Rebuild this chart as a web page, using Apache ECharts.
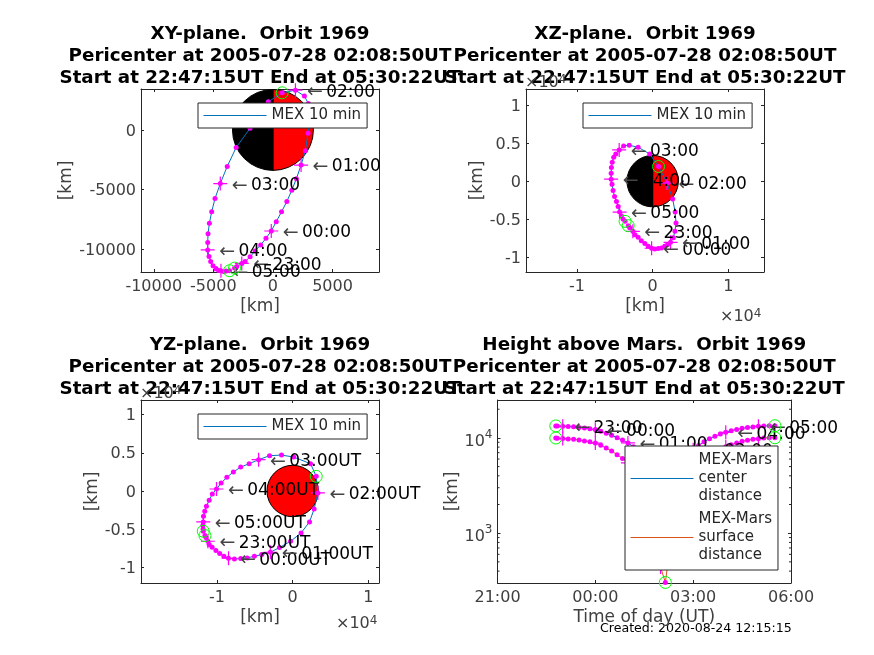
<!DOCTYPE html>
<html><head><meta charset="utf-8">
<style>html,body{margin:0;padding:0;background:#fff}#c{width:874px;height:655px}</style>
<script src="https://cdn.jsdelivr.net/npm/echarts@6/dist/echarts.min.js"></script>
</head><body><div id="c"></div>
<script>
// minutes relative to 00:00 UT on the pericenter day
const timeMin = [-72.75,-70,-60,-50,-40,-30,-20,-10,0,10,20,30,40,50,60,70,80,90,100,110,120,128.83,140,150,160,170,180,190,200,210,220,230,240,250,260,270,280,290,300,310,320,330.37];
const orbitX = [-3222,-3028,-2611,-2333,-1917,-1500,-1028,-583,-139,278,722,1167,1583,1972,2361,2722,2945,3084,2972,2639,1889,778,-389,-1917,-3084,-3834,-4417,-4861,-5139,-5334,-5445,-5473,-5473,-5361,-5223,-5028,-4778,-4556,-4361,-4139,-3917,-3639];
const orbitY = [-11584,-11445,-11195,-11028,-10640,-10140,-9640,-9084,-8473,-7695,-6862,-6000,-5056,-4084,-2945,-1750,-278,1111,2222,2833,3334,3111,2361,139,-1472,-3056,-4500,-5750,-6862,-7834,-8695,-9445,-10056,-10612,-11028,-11390,-11612,-11778,-11806,-11862,-11834,-11806];
const orbitZ = [-5842,-6104,-6584,-7020,-7368,-7804,-8197,-8546,-8807,-8894,-8851,-8764,-8546,-8328,-8022,-7412,-6584,-5494,-4055,-2354,-250,1918,3575,4447,4709,4622,4098,3575,3139,2485,1788,1046,262,-392,-1221,-2006,-2660,-3314,-4055,-4534,-4970,-5276];
const centerDist = [13368,13320,13246,13160,13083,12883,12696,12486,12222,11764,11221,10686,10055,9486,8867,8087,7216,6398,5495,4530,3838,3700,4304,4847,5820,6741,7520,8336,9130,9799,10412,10968,11453,11895,12264,12611,12834,13057,13222,13357,13417,13432];
const surfaceDist = [9972,9924,9850,9764,9687,9487,9300,9090,8826,8368,7825,7290,6659,6090,5471,4691,3820,3002,2099,1134,442,304,908,1451,2424,3345,4124,4940,5734,6403,7016,7572,8057,8499,8868,9215,9438,9661,9826,9961,10021,10036];
const hourIdx = [2,8,14,20,26,32,38];
const hourText = ['23:00','00:00','01:00','02:00','03:00','04:00','05:00'];
const ringIdx = [0,21,41];
const marsRadius = 3396;
const titleLine1 = ['XY-plane.  Orbit 1969','XZ-plane.  Orbit 1969','YZ-plane.  Orbit 1969','Height above Mars.  Orbit 1969'];
const titleLine2 = 'Pericenter at 2005-07-28 02:08:50UT';
const titleLine3 = 'Start at 22:47:15UT End at 05:30:22UT';
const xyTicksX = [-10000,-5000,0,5000];
const xyTicksY = [-10000,-5000,0];
const e4TicksX = [-10000,0,10000];
const e4TicksY = [-10000,-5000,0,5000,10000];
const timeTicks = [-180,0,180,360];
const timeTickText = ['21:00','00:00','03:00','06:00'];
const logTicks = [1000,10000];
const logMinorTicks = [400,500,600,700,800,900,2000,3000,4000,5000,6000,7000,8000,9000,20000];
const legendOrbit = 'MEX 10 min';
const legendCenter = 'MEX-Mars\ncenter\ndistance';
const legendSurface = 'MEX-Mars\nsurface\ndistance';

const FONT = '"DejaVu Sans"';
const INK = '#262626', TXT = '#404040', BLUE = '#0072BD', ORANGE = '#D95319', MAG = '#FF00FF', GREEN = '#00FF00';
const CROSS = 'path://M0 5H10M5 0V10';

const P = [
  {l:141,t:89, w:238,h:183,x:[-11070,8900],y:[-11910,3430],xt:xyTicksX,yt:xyTicksY,xf:v=>String(v),yf:v=>String(v),yGap:66},
  {l:526,t:89, w:238,h:183,x:[-16710,14690],y:[-11920,12090],xt:e4TicksX,yt:e4TicksY,xf:v=>String(v/1e4),yf:v=>String(v/1e4),yGap:40},
  {l:141,t:400,w:238,h:183,x:[-20030,11400],y:[-12050,11920],xt:e4TicksX,yt:e4TicksY,xf:v=>String(v/1e4),yf:v=>String(v/1e4),yGap:40},
  {l:497.5,t:400,w:293.5,h:183,x:[-180,360],y:[300,25000],xt:timeTicks,yt:logTicks,xf:v=>timeTickText[timeTicks.indexOf(v)],yf:v=>'{a|10}{b|'+Math.round(Math.log10(v))+'}',yGap:36.5,log:true}
];
const grid=[],xAxis=[],yAxis=[],title=[],series=[];
const axisCommon = {
  axisLine:{show:true,onZero:false,lineStyle:{color:INK,width:1}},
  splitLine:{show:false},
};
P.forEach((p,i)=>{
  grid.push({left:p.l,top:p.t,width:p.w,height:p.h,containLabel:false});
  const xb = {...axisCommon,type:'value',gridIndex:i,min:p.x[0],max:p.x[1],
    axisTick:{show:true,inside:true,length:3,customValues:p.xt,lineStyle:{color:INK}}};
  const yType = p.log?'log':'value';
  const yb = {...axisCommon,type:yType,gridIndex:i,min:p.y[0],max:p.y[1],
    axisTick:{show:true,inside:true,length:3,customValues:p.yt,lineStyle:{color:INK}}};
  if(p.log) yb.logBase=10;
  xAxis.push({...xb,position:'bottom',
    axisLabel:{show:true,customValues:p.xt,formatter:p.xf,color:TXT,fontFamily:FONT,fontSize:16,margin:7},
    name:i===3?'Time of day (UT)':'[km]',nameLocation:'middle',nameGap:26,nameMoveOverlap:false,
    nameTextStyle:{color:TXT,fontFamily:FONT,fontSize:17}});
  xAxis.push({...xb,position:'top',axisLabel:{show:false}});
  yAxis.push({...yb,position:'left',
    axisLabel:{show:true,customValues:p.yt,formatter:p.yf,color:TXT,fontFamily:FONT,fontSize:16,margin:5,padding:[3,0,0,0],
      rich:{a:{color:TXT,fontFamily:FONT,fontSize:16,padding:[5,0,0,0]},b:{color:TXT,fontFamily:FONT,fontSize:12,verticalAlign:'top',padding:[0,0,3,0]}}},
    name:'[km]',nameLocation:'middle',nameGap:p.yGap,nameRotate:90,nameMoveOverlap:false,
    nameTextStyle:{color:TXT,fontFamily:FONT,fontSize:17}});
  yAxis.push({...yb,position:'right',axisLabel:{show:false}});
  title.push({text:titleLine1[i]+'\n'+titleLine2+'\n'+titleLine3,left:p.l+p.w/2,top:p.t-66,textAlign:'center',padding:0,
    textStyle:{fontFamily:FONT,fontWeight:'bold',fontSize:18.3,lineHeight:22,color:'#000'}});
});

function marsItem(half){
  return function(params,api){
    const c = api.coord([api.value(0),api.value(1)]);
    const r = api.size([api.value(2),0])[0];
    const kids = half ? [
      {type:'sector',shape:{cx:c[0],cy:c[1],r:r,r0:0,startAngle:-Math.PI/2,endAngle:Math.PI/2},style:{fill:'#FF0000',stroke:'#000',lineWidth:1}},
      {type:'sector',shape:{cx:c[0],cy:c[1],r:r,r0:0,startAngle:Math.PI/2,endAngle:Math.PI*1.5},style:{fill:'#000',stroke:'#000',lineWidth:1}}
    ] : [
      {type:'circle',shape:{cx:c[0],cy:c[1],r:r},style:{fill:'#FF0000',stroke:'#000',lineWidth:1}}
    ];
    return {type:'group',children:kids};
  };
}
function addOrbit(gi,xs,ys,name,color,labelSuffix){
  const xi=gi*2, yi=gi*2;
  const pts = xs.map((v,k)=>[v,ys[k]]);
  series.push({type:'line',name:name,xAxisIndex:xi,yAxisIndex:yi,data:pts,symbol:'none',clip:false,z:3,silent:true,
    lineStyle:{color:color,width:1},itemStyle:{color:color}});
  series.push({type:'scatter',xAxisIndex:xi,yAxisIndex:yi,data:pts,symbol:'circle',symbolSize:5,clip:false,z:4,silent:true,
    itemStyle:{color:MAG,opacity:1}});
  series.push({type:'scatter',xAxisIndex:xi,yAxisIndex:yi,data:hourIdx.map(k=>pts[k]),symbol:CROSS,symbolSize:14,clip:false,z:5,silent:true,
    itemStyle:{color:'none',borderColor:MAG,borderWidth:1.2,opacity:1},
    label:labelSuffix===null?{show:false}:{show:true,position:'right',distance:2,offset:[0,2],
      formatter:o=>'{a|\u2190} {t|'+hourText[o.dataIndex]+labelSuffix+'}',
      rich:{a:{fontFamily:FONT,fontSize:19,color:'#444'},t:{fontFamily:FONT,fontSize:17,color:'#000'}}}});
  series.push({type:'scatter',xAxisIndex:xi,yAxisIndex:yi,data:ringIdx.map(k=>pts[k]),symbol:'circle',symbolSize:12,clip:false,z:6,silent:true,
    itemStyle:{color:'none',borderColor:GREEN,borderWidth:1,opacity:1}});
}
series.push({type:'custom',xAxisIndex:0,yAxisIndex:0,clip:true,z:2,silent:true,renderItem:marsItem(true),data:[[0,0,marsRadius]]});
series.push({type:'custom',xAxisIndex:2,yAxisIndex:2,clip:true,z:2,silent:true,renderItem:marsItem(true),data:[[0,0,marsRadius]]});
series.push({type:'custom',xAxisIndex:4,yAxisIndex:4,clip:true,z:2,silent:true,renderItem:marsItem(false),data:[[0,0,marsRadius]]});
addOrbit(0,orbitX,orbitY,legendOrbit,BLUE,'');
addOrbit(1,orbitX,orbitZ,legendOrbit,BLUE,'');
addOrbit(2,orbitY,orbitZ,legendOrbit,BLUE,'UT');
addOrbit(3,timeMin,centerDist,legendCenter,BLUE,'');
addOrbit(3,timeMin,surfaceDist,legendSurface,ORANGE,null);
// log-axis minor ticks
series.push({type:'custom',xAxisIndex:6,yAxisIndex:6,z:1,silent:true,clip:false,data:logMinorTicks.map(v=>[0,v]),
  renderItem:function(params,api){
    const y=api.coord([0,api.value(1)])[1];
    const L=P[3].l, R=P[3].l+P[3].w;
    return {type:'group',children:[
      {type:'line',shape:{x1:L,y1:y,x2:L+2,y2:y},style:{stroke:INK,lineWidth:1}},
      {type:'line',shape:{x1:R,y1:y,x2:R-2,y2:y},style:{stroke:INK,lineWidth:1}}]};
  }});

const legendBase = {orient:'vertical',selectedMode:false,itemWidth:63,itemHeight:14,itemGap:5,
  backgroundColor:'#fff',borderColor:INK,borderWidth:1,borderRadius:0,z:20,
  itemStyle:{opacity:0},lineStyle:{width:1},
  textStyle:{fontFamily:FONT,fontSize:15,color:'#262626'}};
const legend = [
  {...legendBase,data:[legendOrbit],left:198,top:103,padding:[5,6,5,5]},
  {...legendBase,data:[legendOrbit],left:583,top:103,padding:[5,6,5,5]},
  {...legendBase,data:[legendOrbit],left:198,top:414,padding:[5,6,5,5]},
  {...legendBase,data:[legendCenter,legendSurface],left:625,top:446,padding:[5.5,6,5.5,5],textStyle:{fontFamily:FONT,fontSize:15,color:'#262626',lineHeight:18}}
];
const expText = (x,y)=>({type:'text',left:x,top:y,z:10,style:{text:'{a|\u00d710}{b|4}',rich:{
  a:{fontFamily:FONT,fontSize:16,fill:TXT,color:TXT},b:{fontFamily:FONT,fontSize:12,fill:TXT,color:TXT,verticalAlign:'top',padding:[0,0,6,0]}}}});
const graphic = [
  expText(720,308),expText(525,74),expText(336,615),expText(140,385),
  {type:'text',left:600,top:622,style:{text:'Created: 2020-08-24 12:15:15',fontFamily:FONT,fontSize:12.6,fill:'#000'}}
];
const chart = echarts.init(document.getElementById('c'),null,{renderer:'canvas'});
chart.setOption({animation:false,backgroundColor:'#fff',tooltip:{show:false},title,grid,xAxis,yAxis,legend,series,graphic});
</script></body></html>
